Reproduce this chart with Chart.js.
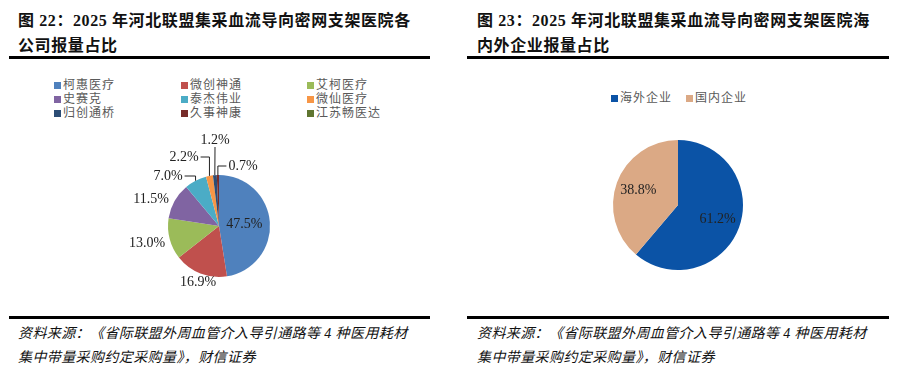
<!DOCTYPE html>
<html>
<head>
<meta charset="utf-8">
<script src="https://cdn.jsdelivr.net/npm/chart.js@4/dist/chart.umd.min.js"></script>
<style>
    body { margin: 0; width: 898px; height: 374px; background: #fff; position: relative; overflow: hidden; }
    .title { position: absolute; font: bold 16px "Liberation Serif", "Noto Sans CJK SC"; letter-spacing: 0.6px; color: #111; line-height: 25px; }
    .rule { position: absolute; height: 3px; background: #000; }
    .source { position: absolute; font: italic 14px "Liberation Serif", "Noto Sans CJK SC"; letter-spacing: 0.4px; color: #111; line-height: 24px; }
    .lg { position: absolute; font: 12px/13px "Liberation Serif", "Noto Sans CJK SC"; letter-spacing: 1px; height: 13px; color: #595959; white-space: nowrap; }
    .lg i { display: inline-block; width: 7px; height: 7px; margin-right: 2px; vertical-align: 0px; }
    canvas { position: absolute; }
</style>
</head>
<body>
<div class="title" style="left:18px; top:8px;">图 22：2025 年河北联盟集采血流导向密网支架医院各<br>公司报量占比</div>
<div class="title" style="left:477px; top:8px;">图 23：2025 年河北联盟集采血流导向密网支架医院海<br>内外企业报量占比</div>
<div class="rule" style="left:9px; width:421px; top:56px;"></div>
<div class="rule" style="left:467px; width:422px; top:56px;"></div>
<div class="rule" style="left:9px; width:421px; top:316px;"></div>
<div class="rule" style="left:467px; width:422px; top:316px;"></div>
<div class="source" style="left:18px; top:322px;">资料来源：《省际联盟外周血管介入导引通路等 4 种医用耗材<br>集中带量采购约定采购量》，财信证券</div>
<div class="source" style="left:477px; top:322px;">资料来源：《省际联盟外周血管介入导引通路等 4 种医用耗材<br>集中带量采购约定采购量》，财信证券</div>

<div id="legendLeft"></div>
<div id="legendRight"></div>
<canvas id="pieCompany" width="200" height="170" style="left:120px; top:125px;"></canvas>
<canvas id="pieOrigin" width="180" height="180" style="left:590px; top:110px;"></canvas>

<script>
    // 图22 各公司报量占比 (%)
    const companyNames = ['柯惠医疗', '微创神通', '艾柯医疗', '史赛克', '泰杰伟业', '微仙医疗', '归创通桥', '久事神康', '江苏畅医达'];
    const companyShares = [47.5, 16.9, 13.0, 11.5, 7.0, 2.2, 1.2, 0.7, 0.0];
    const companyColors = ['#4F81BD', '#C0504D', '#9BBB59', '#8064A2', '#4BACC6', '#F79646', '#2C4D75', '#772C2A', '#5F7530'];

    // 图23 海内外企业报量占比 (%)
    const originNames = ['海外企业', '国内企业'];
    const originShares = [61.2, 38.8];
    const originColors = ['#0B53A6', '#DBA985'];

    // label placement: 'in' = inside slice, otherwise offset of label centre from pie centre + leader side
    const companyLabelPlace = [
        'in',
        { dx: -21, dy: 56 },
        { dx: -72, dy: 17 },
        { dx: -68, dy: -27 },
        { dx: -51, dy: -50, leader: 'right' },
        { dx: -35, dy: -69, leader: 'right' },
        { dx: -4, dy: -86, leader: 'bottom' },
        { dx: 24, dy: -60, leader: 'left' },
        null
    ];
    const originLabelPlace = ['in', 'in'];

    function buildLegend(el, names, colors, cols) {
        names.forEach(function (name, i) {
            const item = document.createElement('div');
            item.className = 'lg';
            item.style.left = cols[i % cols.length] + 'px';
            item.style.top = (el.rows[Math.floor(i / cols.length)]) + 'px';
            item.innerHTML = '<i style="background:' + colors[i] + '"></i>' + name;
            el.box.appendChild(item);
        });
    }
    buildLegend({ box: document.getElementById('legendLeft'), rows: [79, 93, 107] }, companyNames, companyColors, [54, 181, 307]);
    buildLegend({ box: document.getElementById('legendRight'), rows: [92] }, originNames, originColors, [611, 686]);

    const pieLabels = {
        id: 'pieLabels',
        afterDatasetsDraw(chart, args, opts) {
            const ctx = chart.ctx;
            const meta = chart.getDatasetMeta(0);
            const values = chart.data.datasets[0].data;
            ctx.save();
            ctx.font = opts.font;
            ctx.fillStyle = '#222';
            ctx.textAlign = 'center';
            ctx.textBaseline = 'middle';
            meta.data.forEach(function (arc, i) {
                const place = opts.place[i];
                if (!place || values[i] <= 0) return;
                const text = values[i].toFixed(1) + '%';
                const mid = (arc.startAngle + arc.endAngle) / 2;
                if (place === 'in') {
                    const rr = arc.outerRadius * opts.inside;
                    ctx.fillText(text, arc.x + Math.cos(mid) * rr, arc.y + Math.sin(mid) * rr);
                    return;
                }
                const lx = arc.x + place.dx, ly = arc.y + place.dy;
                ctx.fillText(text, lx, ly);
                if (place.leader) {
                    const w = ctx.measureText(text).width;
                    const px = arc.x + Math.cos(mid) * arc.outerRadius;
                    const py = arc.y + Math.sin(mid) * arc.outerRadius;
                    let sx = lx, sy = ly;
                    if (place.leader === 'right') sx = lx + w / 2 + 2;
                    if (place.leader === 'left') sx = lx - w / 2 - 2;
                    if (place.leader === 'bottom') sy = ly + 7;
                    ctx.strokeStyle = '#222';
                    ctx.lineWidth = 1;
                    ctx.beginPath();
                    ctx.moveTo(sx, sy);
                    ctx.lineTo(place.leader === 'bottom' ? sx : px, sy);
                    ctx.lineTo(px, py);
                    ctx.stroke();
                }
            });
            ctx.restore();
        }
    };

    function makePie(id, names, values, colors, padding, labelOpts) {
        return new Chart(document.getElementById(id).getContext('2d'), {
            type: 'pie',
            data: {
                labels: names,
                datasets: [{
                    data: values,
                    backgroundColor: colors,
                    borderWidth: 0
                }]
            },
            options: {
                responsive: false,
                animation: false,
                layout: { padding: padding },
                plugins: {
                    legend: { display: false },
                    tooltip: { enabled: false },
                    pieLabels: labelOpts
                }
            },
            plugins: [pieLabels]
        });
    }

    makePie('pieCompany', companyNames, companyShares, companyColors,
        { left: 48, right: 50, top: 50, bottom: 18 },
        { place: companyLabelPlace, inside: 0.5, font: '14px "Liberation Serif"' });
    makePie('pieOrigin', originNames, originShares, originColors,
        { left: 23, right: 27, top: 30, bottom: 20 },
        { place: originLabelPlace, inside: 0.65, font: '14px "Liberation Serif"' });
</script>
</body>
</html>
